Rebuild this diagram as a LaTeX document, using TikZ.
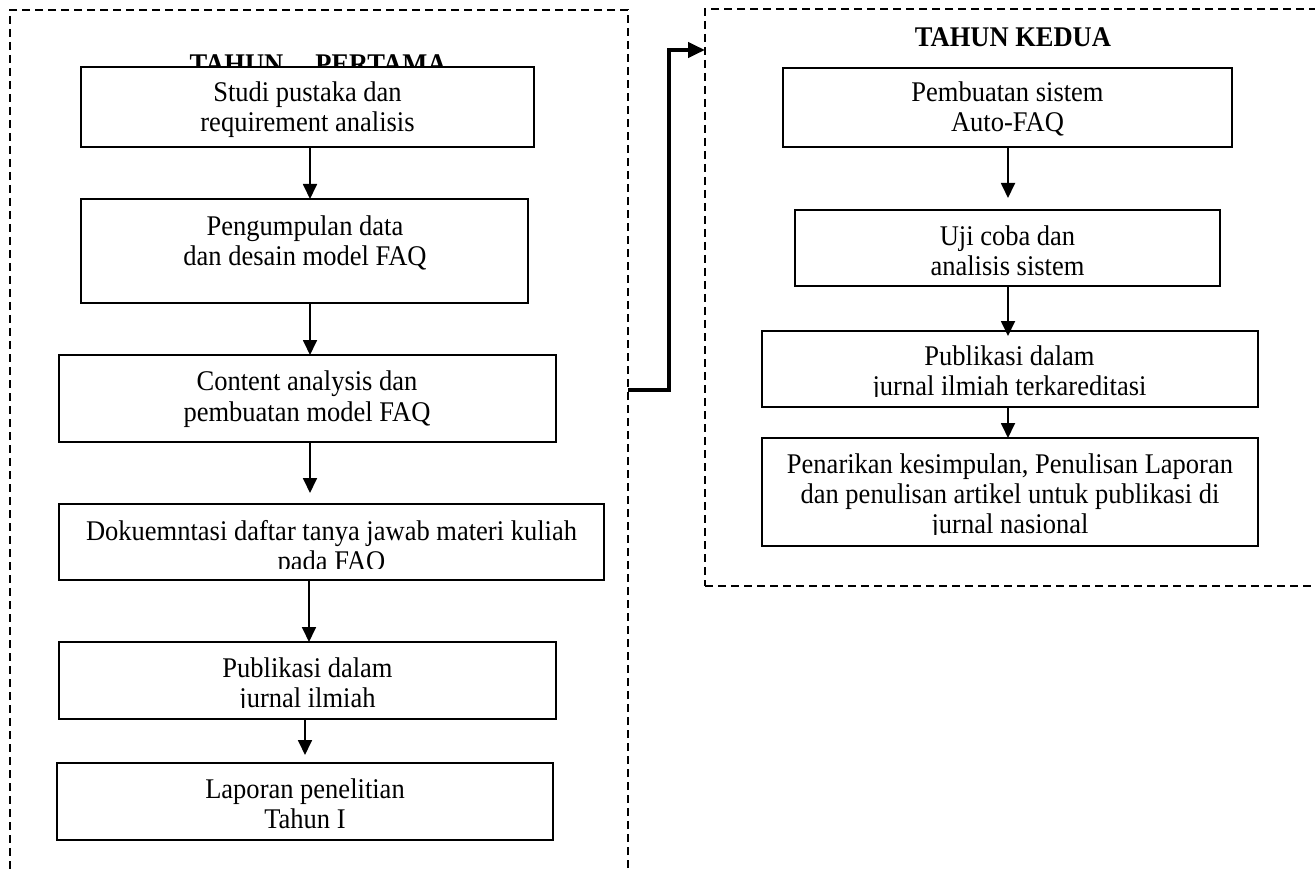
\documentclass[tikz,border=0pt]{standalone}
\usepackage{fontspec}
\setmainfont{Liberation Serif}[FakeStretch=0.93]
\usetikzlibrary{arrows.meta,fit}
\tikzset{
  box/.style={draw, line width=1.8pt, fill=white, inner sep=0pt, outer sep=0pt},
  frame/.style={draw, line width=1.3pt, dash pattern=on 8pt off 5pt, inner sep=0pt, outer sep=0pt},
  ln/.style={anchor=base, inner sep=0pt, font=\fontsize{28.5}{30}\selectfont},
  ttl/.style={anchor=base, inner sep=0pt, font=\fontsize{28.5}{30}\selectfont\bfseries},
  flow/.style={line width=1.8pt, -{Triangle[length=15pt,width=14pt]}},
  link/.style={line width=4pt, -{Triangle[length=17pt,width=15pt]}},
}
\begin{document}
\begin{tikzpicture}[x=1pt,y=-1pt]
\clip (0,0) rectangle (1315,872);
\fill[white] (0,0) rectangle (1315,872);

% year frames
\node[frame, fit={(10,10) (628,900)}] (Y1) {};
\node[frame, fit={(705,9) (1340,586)}] (Y2) {};

% titles (the first one sits partly under the first box)
\node[ttl] (T1) at (318,74) {TAHUN\hspace{32pt}PERTAMA};
\node[ttl] (T2) at (1013,47) {TAHUN KEDUA};

% ---- first year ----
\node[box, fit={(81,67) (534,147)}] (L1) {};
\node[ln] (L1a) at (307.5,102) {Studi pustaka dan};
\node[ln] (L1b) at (307.5,132) {requirement analisis};

\node[box, fit={(81,199) (528,303)}] (L2) {};
\node[ln] (L2a) at (305,235) {Pengumpulan data};
\node[ln] (L2b) at (305,265) {dan desain model FAQ};

\node[box, fit={(59,355) (556,442)}] (L3) {};
\node[ln] (L3a) at (307,390) {Content analysis dan};
\node[ln] (L3b) at (307,421) {pembuatan model FAQ};

\node[box, fit={(59,504) (604,580)}] (L4) {};
\node[ln] (L4a) at (331.5,540) {Dokuemntasi daftar tanya jawab materi kuliah};
\begin{scope}
  \clip (59,504) rectangle (604,568.5);
  \node[ln] (L4b) at (331.5,570) {pada FAQ};
\end{scope}

\node[box, fit={(59,642) (556,719)}] (L5) {};
\node[ln] (L5a) at (307.5,677) {Publikasi dalam};
\begin{scope}
  \clip (59,642) rectangle (556,707.5);
  \node[ln] (L5b) at (307.5,707) {jurnal ilmiah};
\end{scope}

\node[box, fit={(57,763) (553,840)}] (L6) {};
\node[ln] (L6a) at (305,798) {Laporan penelitian};
\node[ln] (L6b) at (305,828) {Tahun I};

\draw[flow] ([xshift=2.5pt]L1.south) -- ([xshift=2.5pt]L1.south |- L2.north);
\draw[flow] ([xshift=5.5pt]L2.south) -- ([xshift=5.5pt]L2.south |- L3.north);
\draw[flow, shorten >=11pt] ([xshift=2.5pt]L3.south) -- ([xshift=2.5pt]L3.south |- L4.north);
\draw[flow] ([xshift=1.5pt]L5.north |- L4.south) -- ([xshift=1.5pt]L5.north);
\draw[flow, shorten >=8pt] ([xshift=-2.5pt]L5.south) -- ([xshift=-2.5pt]L5.south |- L6.north);

% ---- second year ----
\node[box, fit={(783,68) (1232,147)}] (R1) {};
\node[ln] (R1a) at (1007.5,102) {Pembuatan sistem};
\node[ln] (R1b) at (1007.5,132) {Auto-FAQ};

\node[box, fit={(795,210) (1220,286)}] (R2) {};
\node[ln] (R2a) at (1007.5,245) {Uji coba dan};
\node[ln] (R2b) at (1007.5,275) {analisis sistem};

\node[box, fit={(762,331) (1258,407)}] (R3) {};
\node[ln] (R3a) at (1009.5,365) {Publikasi dalam};
\begin{scope}
  \clip (762,331) rectangle (1258,396);
  \node[ln] (R3b) at (1009.5,395) {jurnal ilmiah terkareditasi};
\end{scope}

\node[box, fit={(762,438) (1258,546)}] (R4) {};
\node[ln] (R4a) at (1010,473) {Penarikan kesimpulan, Penulisan Laporan};
\node[ln] (R4b) at (1010,503) {dan penulisan artikel untuk publikasi di};
\begin{scope}
  \clip (762,438) rectangle (1258,534);
  \node[ln] (R4c) at (1010,533) {jurnal nasional};
\end{scope}

\draw[flow, shorten >=12pt] ([xshift=0.5pt]R1.south) -- ([xshift=0.5pt]R1.south |- R2.north);
\draw[flow, shorten >=-5pt] ([xshift=0.5pt]R2.south) -- ([xshift=0.5pt]R2.south |- R3.north);
\draw[flow] ([xshift=-2pt]R3.south) -- ([xshift=-2pt]R3.south |- R4.north);

% hand-over from the first year to the second
\coordinate (out1) at (628,390);
\coordinate (in2) at (705,50);
\draw[link] (out1) -- ++(41,0) |- (in2);
\end{tikzpicture}
\end{document}
